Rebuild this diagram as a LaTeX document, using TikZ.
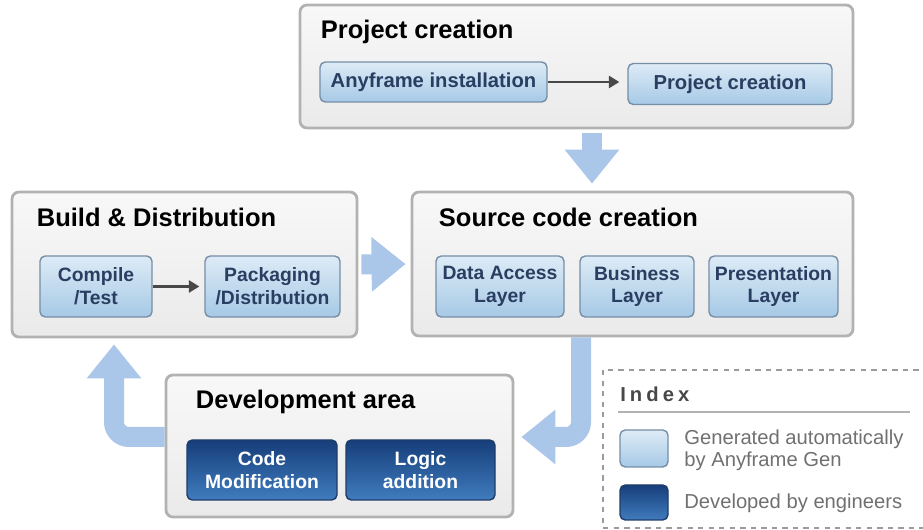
\documentclass[tikz,border=0pt]{standalone}
\usepackage{fontspec}
\setmainfont{Liberation Sans}
\usetikzlibrary{arrows.meta}
\definecolor{StageBorder}{RGB}{178, 178, 178}
\definecolor{StageTop}{RGB}{248, 248, 248}
\definecolor{StageBottom}{RGB}{234, 234, 234}
\definecolor{GenBorder}{RGB}{118, 142, 166}
\definecolor{GenTop}{RGB}{221, 235, 246}
\definecolor{GenBottom}{RGB}{166, 201, 230}
\definecolor{GenText}{RGB}{42, 62, 98}
\definecolor{DevBorder}{RGB}{30, 60, 105}
\definecolor{DevTop}{RGB}{22, 62, 122}
\definecolor{DevBottom}{RGB}{64, 124, 190}
\definecolor{FlowGray}{RGB}{72, 72, 72}
\definecolor{BigArrow}{RGB}{170, 198, 233}
\definecolor{IndexGray}{RGB}{112, 112, 112}

\tikzset{
  stage/.style={draw=StageBorder, line width=1.6pt, rounded corners=4pt, top color=StageTop, bottom color=StageBottom},
  stagetitle/.style={anchor=base west, inner sep=0pt, font=\fontsize{14.5}{17}\selectfont\bfseries},
  genbox/.style={draw=GenBorder, line width=0.8pt, rounded corners=3pt, top color=GenTop, bottom color=GenBottom, text=GenText, align=center, inner sep=0pt, font=\fontsize{11}{13}\selectfont\bfseries},
  devbox/.style={draw=DevBorder, line width=0.8pt, rounded corners=3pt, top color=DevTop, bottom color=DevBottom, text=white, align=center, inner sep=0pt, font=\fontsize{11}{13}\selectfont\bfseries},
  flow/.style={draw=FlowGray, line width=1.2pt, -{Triangle[width=7pt,length=6pt]}},
  bigflow/.style={draw=BigArrow, line width=0.4cm, -{Triangle[width=1.05cm,length=0.68cm]}},
  legendtext/.style={anchor=west, inner sep=0pt, align=left, text=IndexGray, font=\fontsize{11.5}{12.5}\selectfont},
}

\begin{document}
\begin{tikzpicture}
    \useasboundingbox (0,0) rectangle (18.46,-10.6);

    % Project creation
    \node[stage, minimum width=11.06cm, minimum height=2.46cm] (proj) at (11.53,-1.33) {};
    \node[stagetitle] (projtitle) at ([xshift=0.44cm, yshift=-0.7cm]proj.north west) {Project creation};
    \node[genbox, font=\fontsize{11.5}{13}\selectfont\bfseries, minimum width=4.54cm, minimum height=0.8cm] (install) at (8.67,-1.64) {Anyframe installation};
    \node[genbox, font=\fontsize{11.5}{13}\selectfont\bfseries, minimum width=4.08cm, minimum height=0.82cm] (newproj) at (14.6,-1.68) {Project creation};

    % Build & Distribution
    \node[stage, minimum width=6.9cm, minimum height=2.9cm] (build) at (3.69,-5.29) {};
    \node[stagetitle] (buildtitle) at ([xshift=0.52cm, yshift=-0.72cm]build.north west) {Build \& Distribution};
    \node[genbox, minimum width=2.24cm, minimum height=1.22cm] (compile) at (1.92,-5.73) {Compile\\/Test};
    \node[genbox, minimum width=2.7cm, minimum height=1.22cm] (packaging) at (5.45,-5.73) {Packaging\\/Distribution};

    % Source code creation
    \node[stage, minimum width=8.82cm, minimum height=2.88cm] (src) at (12.65,-5.28) {};
    \node[stagetitle] (srctitle) at ([xshift=0.56cm, yshift=-0.72cm]src.north west) {Source code creation};
    \node[genbox, minimum width=2.56cm, minimum height=1.22cm] (dataaccess) at (10.0,-5.73) {Data Access\\Layer};
    \node[genbox, minimum width=2.28cm, minimum height=1.22cm] (business) at (12.74,-5.73) {Business\\Layer};
    \node[genbox, minimum width=2.58cm, minimum height=1.22cm] (presentation) at (15.47,-5.73) {Presentation\\Layer};

    % Development area
    \node[stage, minimum width=6.94cm, minimum height=2.84cm] (dev) at (6.79,-8.92) {};
    \node[stagetitle] (devtitle) at ([xshift=0.62cm, yshift=-0.7cm]dev.north west) {Development area};
    \node[devbox, minimum width=3.0cm, minimum height=1.2cm] (codemod) at (5.24,-9.4) {Code\\Modification};
    \node[devbox, minimum width=2.98cm, minimum height=1.2cm] (logic) at (8.41,-9.4) {Logic\\addition};

    % Arrows
    \draw[flow] (install) -- ([xshift=-0.16cm]newproj.west |- install.east);
    \draw[flow] (compile) -- ([xshift=-0.1cm]packaging.west);
    \draw[bigflow, shorten <=0.08cm, shorten >=0.14cm] ([xshift=0.31cm]proj.south) -- ([xshift=0.31cm]proj.south |- src.north);
    \draw[bigflow, shorten <=0.06cm, shorten >=0.1cm] (build.east) -- (src.west);
    \draw[bigflow, rounded corners=0.3cm, shorten >=0.14cm] ([xshift=-1.03cm]src.south) |- ([yshift=0.18cm]dev.east);
    \draw[bigflow, rounded corners=0.3cm, shorten >=0.12cm] ([yshift=0.18cm]dev.west) -| ([xshift=-1.41cm]build.south);

    % Index
    \draw[IndexGray!70, dashed, line width=0.6pt] (12.06,-7.4) rectangle (18.7,-10.56);
    \node[anchor=west, inner sep=0pt, text=FlowGray, font=\fontsize{11.5}{13}\selectfont\bfseries\addfontfeatures{LetterSpace=20}] (indextitle) at (12.4,-7.88) {Index};
    \draw[StageBorder, line width=0.6pt] (12.36,-8.24) -- (18.2,-8.24);
    \node[genbox, minimum width=0.96cm, minimum height=0.74cm] (genkey) at (12.88,-8.97) {};
    \node[legendtext] (gentext) at (13.68,-9.0) {Generated automatically\\by Anyframe Gen};
    \node[devbox, minimum width=0.96cm, minimum height=0.7cm] (devkey) at (12.88,-10.05) {};
    \node[legendtext] (devtext) at (13.68,-10.06) {Developed by engineers};
\end{tikzpicture}
\end{document}
